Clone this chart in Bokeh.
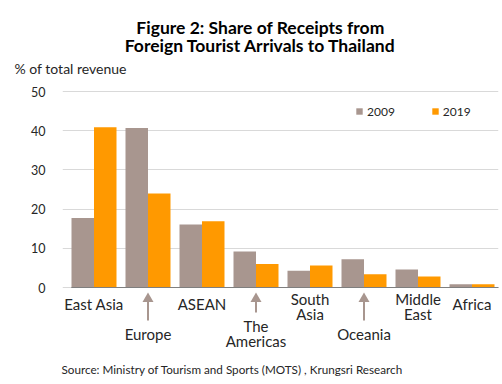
from bokeh.plotting import figure
from bokeh.layouts import column
from bokeh.models import (Range1d, ColumnDataSource, FixedTicker,
                          Label, Legend, LegendItem)
from bokeh.transform import dodge
from bokeh.core.properties import value
from bokeh.embed import file_html
from bokeh.resources import INLINE

# ---- data ----
categories = ["East Asia", "Europe", "ASEAN", "The Americas",
              "South Asia", "Oceania", "Middle East", "Africa"]
tick_labels = ["East Asia", "Europe", "ASEAN", "The\nAmericas",
               "South\nAsia", "Oceania", "Middle\nEast", "Africa"]
share_2009 = [17.7, 40.7, 16.1, 9.2, 4.3, 7.2, 4.6, 0.8]
share_2019 = [40.9, 24.0, 16.9, 6.0, 5.6, 3.4, 2.8, 0.8]
y_ticks = [0, 10, 20, 30, 40, 50]
series_names = ["2009", "2019"]
lowered = ["Europe", "The Americas", "Oceania"]

# ---- style / layout ----
C09 = "#a8968f"
C19 = "#ff9900"
TXT = "#262626"
FONT = "Lato"
W = 500
TOP_H, CH_H, BOT_H = 80, 276, 24
G0, GW = 66.5, 54.0              # page x of first group start, group width
FRAME_L, FRAME_R = 62, 498
Y0, PX = 287.0 - TOP_H, 3.92     # pixel (in chart canvas) of value 0, px per unit

n = len(categories)
xpos = [i + 0.5 for i in range(n)]


def no_align(f):
    if hasattr(f, "frame_align"):
        f.frame_align = False
    return f


def blank(h):
    f = figure(width=W, height=h, x_range=Range1d(0, 1), y_range=Range1d(0, 1),
               x_axis_location=None, y_axis_location=None,
               output_backend="svg", toolbar_location=None,
               min_border_left=0, min_border_right=0,
               min_border_top=0, min_border_bottom=0)
    f.outline_line_color = None
    f.xgrid.visible = False
    f.ygrid.visible = False
    return no_align(f)


# ---- header ----
top = blank(TOP_H)
for txt, yb in [("Figure 2: Share of Receipts from", 27),
                ("Foreign Tourist Arrivals to Thailand", 45)]:
    top.add_layout(Label(x=260, y=TOP_H - yb, text=txt,
                         x_units="screen", y_units="screen", text_align="center",
                         text_baseline="alphabetic", text_font=FONT,
                         text_font_style="bold", text_font_size="17.5px",
                         text_color="black"))
top.add_layout(Label(x=14, y=TOP_H - 67.7, text="% of total revenue",
                     x_units="screen", y_units="screen", text_align="left",
                     text_baseline="middle", text_font=FONT,
                     text_font_size="14px", text_color=TXT))

# ---- chart ----
p = figure(width=W, height=CH_H,
           x_range=Range1d((FRAME_L - G0) / GW, (FRAME_R - G0) / GW),
           y_range=Range1d((Y0 - CH_H) / PX, Y0 / PX),
           x_axis_location=None, y_axis_location="left",
           output_backend="svg", toolbar_location=None,
           min_border_left=FRAME_L, min_border_right=W - FRAME_R,
           min_border_top=0, min_border_bottom=0)
p.outline_line_color = None
no_align(p)

ticker = FixedTicker(ticks=y_ticks, minor_ticks=[])
p.yaxis.ticker = ticker
p.ygrid.ticker = ticker
p.ygrid.grid_line_color = "#d9d9d9"
p.xgrid.visible = False
p.yaxis.axis_line_color = None
p.yaxis.major_tick_line_color = None
p.yaxis.minor_tick_line_color = None
p.yaxis.major_label_standoff = 11
p.yaxis.major_label_text_font = FONT
p.yaxis.major_label_text_font_size = "12.5px"
p.yaxis.major_label_text_color = TXT

src = ColumnDataSource(dict(x=xpos, cat=categories, v09=share_2009, v19=share_2019))
bw = 22.5 / GW
r09 = p.vbar(x=dodge("x", -bw / 2), top="v09", width=bw,
             source=src, fill_color=C09, line_color=None)
r19 = p.vbar(x=dodge("x", bw / 2), top="v19", width=bw,
             source=src, fill_color=C19, line_color=None)

p.segment(x0=[0.08], x1=[n], y0=[0], y1=[0], line_color="#7f7f7f", line_width=1)

# category labels with staggering + arrows
lab_y, arrow_x, arrow_y1 = [], [], []
for xc, c, t in zip(xpos, categories, tick_labels):
    nl = t.count("\n") + 1
    if c in lowered:
        off = 46.0
        arrow_x.append(xc)
        arrow_y1.append(-(off - 7 - (nl - 1) * 8 - 6) / PX)
    else:
        off = 16.0 if nl == 1 else 19.0
    lab_y.append(-off / PX)

p.text(x=xpos, y=lab_y, text=tick_labels, text_align="center",
       text_baseline="middle", text_font=value(FONT), text_font_size="15px",
       text_color=TXT, text_line_height=0.8)

head_y = [-11.3 / PX] * len(arrow_x)
p.segment(x0=arrow_x, y0=head_y, x1=arrow_x, y1=arrow_y1,
          line_color=C09, line_width=2)
p.scatter(x=arrow_x, y=head_y, marker="triangle", size=11,
          fill_color=C09, line_color=None)

legend = Legend(items=[LegendItem(label=series_names[0], renderers=[r09]),
                       LegendItem(label=series_names[1], renderers=[r19])],
                location=(355 - FRAME_L, CH_H - (118.5 - TOP_H)),
                orientation="horizontal",
                glyph_width=8, glyph_height=8, label_standoff=4, spacing=36,
                padding=0, margin=0, border_line_color=None,
                background_fill_alpha=0,
                label_text_font=FONT, label_text_font_size="12px",
                label_text_color=TXT)
p.add_layout(legend)

# ---- footer ----
bot = blank(BOT_H)
bot.add_layout(Label(x=61, y=BOT_H - 12, text="Source: Ministry of Tourism and Sports (MOTS) , Krungsri Research",
                     x_units="screen", y_units="screen", text_align="left",
                     text_baseline="middle", text_font=FONT,
                     text_font_size="11.7px", text_color=TXT))

page = column(top, p, bot, spacing=0)
open("out.html", "w").write(file_html(page, INLINE))
